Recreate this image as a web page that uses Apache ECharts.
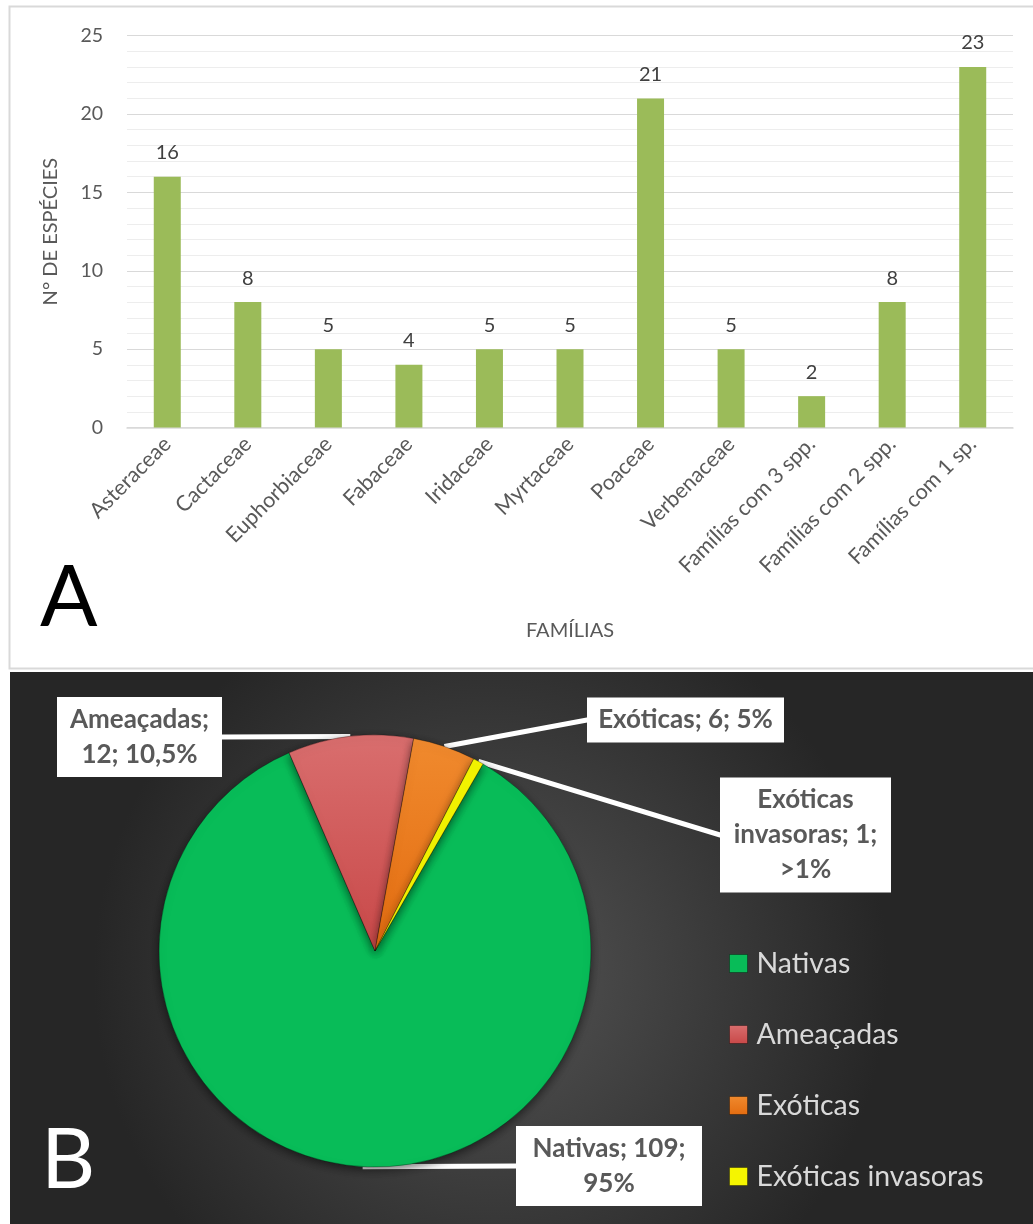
<!DOCTYPE html>
<html><head><meta charset="utf-8">
<script src="https://cdn.jsdelivr.net/npm/echarts@6/dist/echarts.min.js"></script>
<style>html,body{margin:0;padding:0;background:#fff}#c{width:1033px;height:1224px}</style>
</head><body><div id="c"></div>
<script>
// ---- Data (panel A) ----
const families = ['Asteraceae','Cactaceae','Euphorbiaceae','Fabaceae','Iridaceae','Myrtaceae','Poaceae','Verbenaceae','Famílias com 3 spp.','Famílias com 2 spp.','Famílias com 1 sp.'];
const speciesCount = [16, 8, 5, 4, 5, 5, 21, 5, 2, 8, 23];
const yTickMin = 0, yTickMax = 25, yTickStep = 5;
// ---- Data (panel B) ----
const statusNames = ['Nativas', 'Ameaçadas', 'Exóticas', 'Exóticas invasoras'];
const statusValues = [109, 12, 6, 1];
const statusPctText = ['95%', '10,5%', '5%', '>1%'];

// ---- Styling ----
const FONT = 'Lato';
const pieColors = [
  '#08BC58',
  {type:'linear',x:0,y:0,x2:0,y2:1,colorStops:[{offset:0,color:'#D96E6E'},{offset:1,color:'#C84848'}]},
  {type:'linear',x:0,y:0,x2:0,y2:1,colorStops:[{offset:0,color:'#F08A2E'},{offset:1,color:'#E36C10'}]},
  '#F5F500'
];
const labelBreaksAfter = [[1],[0],[],[0,2]];
const labelCenters = [[609,1166],[139.5,737],[685.5,720],[805.5,835]];
const labelWidths = [168,147,179,153];

const chart = echarts.init(document.getElementById('c'), null, {renderer:'canvas'});

const pieData = statusNames.map((n,i)=>({
  name:n, value:statusValues[i],
  itemStyle:{color:pieColors[i]},
  label:{width:labelWidths[i]}
}));

chart.setOption({
  backgroundColor:'#ffffff',
  animation:false,
  graphic:[
    {type:'rect', z:-10, shape:{x:9.5,y:6.5,width:1040,height:662}, style:{fill:'#fff',stroke:'#d9d9d9',lineWidth:2}},
    {type:'rect', z:-10, shape:{x:10,y:672,width:1023,height:552},
      style:{fill:{type:'radial',x:0.47,y:0.55,r:0.72,colorStops:[{offset:0,color:'#545454'},{offset:1,color:'#262626'}]}}},
    {type:'text', z:100, left:40, top:556, style:{text:'A', font:'85px Lato', fill:'#000', shadowColor:'rgba(0,0,0,0.45)', shadowBlur:5, shadowOffsetX:3, shadowOffsetY:3}},
    {type:'text', z:100, left:41, top:1119, style:{text:'B', font:'84px Lato', fill:'#fff'}}
  ],
  grid:{left:127, right:20, top:35.7, bottom:796.5, containLabel:false},
  xAxis:{
    type:'category', data:families,
    axisLine:{show:true, lineStyle:{color:'#d9d9d9', width:1.5}},
    axisTick:{show:false},
    axisLabel:{rotate:45, interval:0, margin:13, fontFamily:FONT, fontSize:21.5, color:'#595959'},
    name:'FAMÍLIAS', nameLocation:'middle', nameGap:193,
    nameTextStyle:{fontFamily:FONT, fontSize:20, color:'#595959'}
  },
  yAxis:{
    type:'value', min:yTickMin, max:yTickMax, interval:yTickStep,
    axisLine:{show:false}, axisTick:{show:false},
    axisLabel:{fontFamily:FONT, fontSize:19.5, color:'#595959', margin:24},
    splitLine:{lineStyle:{color:'#d9d9d9', width:1}},
    minorTick:{show:false, splitNumber:5},
    minorSplitLine:{show:true, lineStyle:{color:'#ededed', width:1}},
    name:'N° DE ESPÉCIES', nameLocation:'middle', nameGap:66, nameRotate:90,
    nameTextStyle:{fontFamily:FONT, fontSize:20, color:'#595959'}
  },
  legend:{
    orient:'vertical', left:724, top:944, itemWidth:18, itemHeight:18, itemGap:42,
    icon:'rect', data:statusNames,
    textStyle:{fontFamily:FONT, fontSize:28.5, color:'#d9d9d9', padding:[0,0,0,4]},
    itemStyle:{borderColor:'rgba(0,0,0,0.35)', borderWidth:1}
  },
  series:[
    {
      type:'bar', data:speciesCount, barWidth:27,
      itemStyle:{color:'#9BBB59'},
      label:{show:true, position:'top', distance:14, fontFamily:FONT, fontSize:20, color:'#404040'}
    },
    {
      type:'pie', center:[375,951], radius:216, startAngle:60, clockwise:true,
      data:pieData,
      itemStyle:{borderColor:'rgba(0,0,0,0.3)', borderWidth:1, shadowBlur:10, shadowColor:'rgba(0,0,0,0.55)', shadowOffsetY:3},
      emphasis:{disabled:true},
      label:{
        show:true, position:'outside',
        formatter:(p)=>{
          const words = (p.name + ';').split(' ').concat([p.value + ';', statusPctText[p.dataIndex]]);
          const br = labelBreaksAfter[p.dataIndex];
          let s = '';
          words.forEach((w,k)=>{ s += w; if(k<words.length-1) s += br.includes(k) ? '\n' : ' '; });
          return s;
        },
        fontFamily:FONT, fontWeight:'bold', fontSize:26, lineHeight:35, color:'#595959',
        backgroundColor:'#ffffff', padding:[5,9], align:'center'
      },
      labelLine:{show:true, length:0.1, length2:0.1, smooth:false, lineStyle:{color:'#ffffff', width:5}},
      labelLayout:(params)=>{
        const c = labelCenters[params.dataIndex];
        return {x:c[0], y:c[1], align:'center', verticalAlign:'middle', hideOverlap:false};
      }
    }
  ]
});
</script></body></html>
